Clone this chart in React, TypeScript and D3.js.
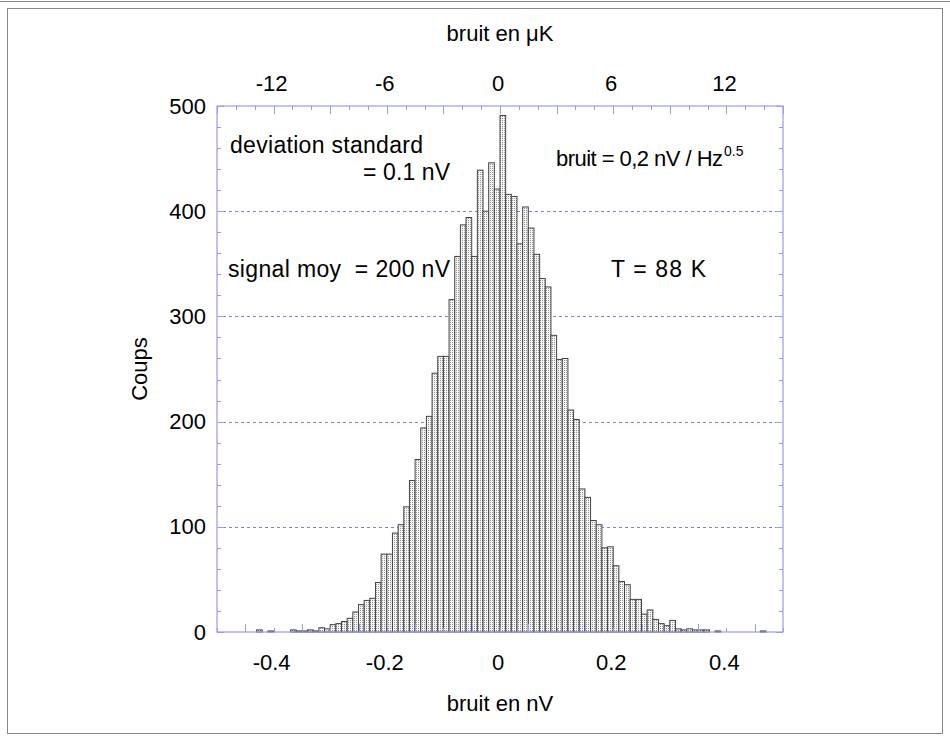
import React from "react";
import * as d3 from "d3";

// histogram bins (nV), left edge of first bin and width
const BIN_START = -0.43;
const BIN_WIDTH = 0.01;
const counts = [
  2, 0, 1, 0, 0, 0, 2, 1, 1, 2, 1, 4, 3, 7, 8, 10, 13, 19, 26, 30, 32, 47, 74,
  74, 94, 102, 119, 144, 164, 194, 205, 246, 262, 262, 316, 357, 387, 394, 357,
  439, 400, 446, 421, 491, 416, 414, 369, 404, 384, 359, 336, 328, 282, 259, 260,
  211, 202, 136, 128, 106, 102, 80, 81, 63, 48, 45, 31, 31, 17, 21, 12, 8, 6, 11,
  3, 2, 3, 2, 2, 2, 0, 1, 0, 0, 0, 0, 0, 0, 0, 1,
];

const xTicksNV = [-0.4, -0.2, 0, 0.2, 0.4];
const xTicksUK = [-12, -6, 0, 6, 12];
const yTicks = [0, 100, 200, 300, 400, 500];
const gridLines = [100, 200, 300, 400];

const W = 950;
const H = 736;
const left = 217;
const right = 783;
const top = 106;
const bottom = 632;

const FONT = "'Liberation Sans', Arial, Helvetica, sans-serif";
const AXIS = "#9a9af0";
const GRID = "#7b7bea";

export default function App() {
  const x = d3.scaleLinear().domain([-0.5, 0.5]).range([left, right]);
  const xTop = d3.scaleLinear().domain([-15, 15]).range([left, right]);
  const y = d3.scaleLinear().domain([0, 500]).range([bottom, top]);

  const bins = counts.map((c, i) => {
    const x0 = BIN_START + i * BIN_WIDTH;
    return { x0, x1: x0 + BIN_WIDTH, c };
  });

  const minorY = d3.range(0, 501, 20);
  const ticksBottom = d3.range(-0.5, 0.5001, 0.05);
  const ticksTop = d3.range(-15, 15.001, 1);

  return (
    <svg
      width={W}
      height={H}
      style={{ position: "absolute", left: 0, top: 0, background: "#fff" }}
      fontFamily={FONT}
    >
      <defs>
        <pattern id="dots" width={2} height={2} patternUnits="userSpaceOnUse">
          <rect width={2} height={2} fill="#f6f6f6" />
          <rect width={1} height={1} fill="#959595" />
        </pattern>
      </defs>

      {/* page frame */}
      <line x1={0} x2={W} y1={1.5} y2={1.5} stroke="#888" />
      <rect x={7.5} y={8.5} width={935} height={725} fill="none" stroke="#888" />

      {/* grid */}
      {gridLines.map((g) => (
        <line
          key={g}
          x1={left}
          x2={right}
          y1={Math.round(y(g)) + 0.5}
          y2={Math.round(y(g)) + 0.5}
          stroke={GRID}
          strokeDasharray="3 3"
        />
      ))}

      {/* bars */}
      <g stroke="#444" strokeWidth={1} fill="url(#dots)">
        {bins
          .filter((b) => b.c > 0)
          .map((b, i) => (
            <rect
              key={i}
              x={x(b.x0)}
              y={y(b.c)}
              width={x(b.x1) - x(b.x0)}
              height={y(0) - y(b.c)}
            />
          ))}
      </g>

      {/* axes frame */}
      <rect
        x={left}
        y={top}
        width={right - left}
        height={bottom - top}
        fill="none"
        stroke={AXIS}
        strokeWidth={1.2}
      />

      {/* ticks */}
      <g stroke={AXIS}>
        {minorY.map((v) => {
          const len = v % 100 === 0 ? 7 : 4;
          const yy = Math.round(y(v)) + 0.5;
          return (
            <g key={v}>
              <line x1={left} x2={left + len} y1={yy} y2={yy} />
              <line x1={right} x2={right - len} y1={yy} y2={yy} />
            </g>
          );
        })}
        {ticksBottom.map((v, i) => {
          const len = i % 2 === 0 ? 4 : 8;
          const xx = Math.round(x(v)) + 0.5;
          return <line key={i} x1={xx} x2={xx} y1={bottom} y2={bottom - len} />;
        })}
        {ticksTop.map((v, i) => {
          const len = Math.round(v) % 3 === 0 ? 8 : 4;
          const xx = Math.round(xTop(v)) + 0.5;
          return <line key={i} x1={xx} x2={xx} y1={top} y2={top + len} />;
        })}
      </g>

      {/* tick labels */}
      <g fontSize={22} fill="#000">
        {yTicks.map((v) => (
          <text key={v} x={206} y={y(v)} textAnchor="end" dominantBaseline="central">
            {v}
          </text>
        ))}
        {xTicksNV.map((v) => (
          <text key={v} x={x(v) - 2} y={670} textAnchor="middle">
            {v === 0 ? "0" : v.toString()}
          </text>
        ))}
        {xTicksUK.map((v) => (
          <text key={v} x={xTop(v) - 2} y={91} textAnchor="middle">
            {v}
          </text>
        ))}
      </g>

      {/* axis titles */}
      <g fontSize={22} fill="#000">
        <text x={500} y={41} textAnchor="middle">bruit en μK</text>
        <text x={500} y={711} textAnchor="middle">bruit en nV</text>
        <text
          transform={`translate(147,${(top + bottom) / 2}) rotate(-90)`}
          textAnchor="middle"
        >
          Coups
        </text>
      </g>

      {/* annotations */}
      <g fontSize={23} fill="#000">
        <text x={230} y={153} textLength={193} lengthAdjust="spacing">
          deviation standard
        </text>
        <text x={363} y={180} textLength={87} lengthAdjust="spacing">
          = 0.1 nV
        </text>
        <text x={556} y={166} fontSize={22} textLength={167} lengthAdjust="spacing">
          bruit = 0,2 nV / Hz
        </text>
        <text x={724} y={156} fontSize={14}>
          0.5
        </text>
        <text
          x={228}
          y={277}
          textLength={222}
          lengthAdjust="spacing"
          xmlSpace="preserve"
        >
          signal moy  = 200 nV
        </text>
        <text x={611} y={277} textLength={95} lengthAdjust="spacing">
          T = 88 K
        </text>
      </g>
    </svg>
  );
}
